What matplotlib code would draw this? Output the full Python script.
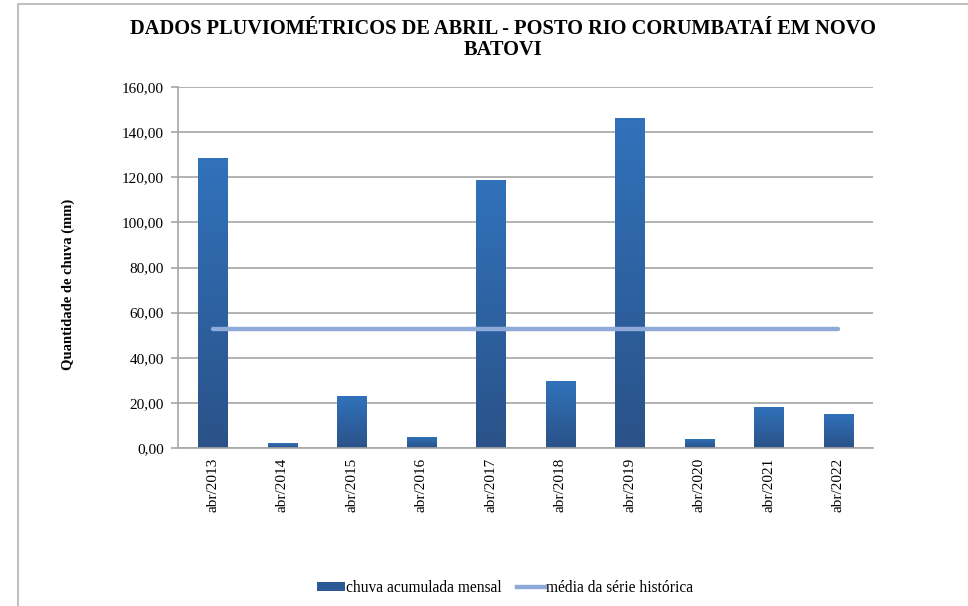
import numpy as np
import matplotlib.pyplot as plt
from matplotlib.patches import Rectangle
from matplotlib.lines import Line2D
from matplotlib.ticker import FuncFormatter

plt.rcParams['font.family'] = ['Liberation Serif', 'DejaVu Serif']

meses = ["abr/2013", "abr/2014", "abr/2015", "abr/2016", "abr/2017",
         "abr/2018", "abr/2019", "abr/2020", "abr/2021", "abr/2022"]
chuva = [128.5, 2.2, 23.0, 4.9, 118.8, 29.7, 146.3, 4.0, 18.2, 15.1]
media = [52.7] * len(meses)

GRID = '#a6a6a6'
TOP_C = np.array([0x31, 0x72, 0xbb]) / 255
BOT_C = np.array([0x2a, 0x52, 0x88]) / 255

fig = plt.figure(figsize=(9.68, 6.06), dpi=100)
ax = fig.add_axes([0.1839, 0.2607, 0.718, 0.5957])

x = np.arange(len(meses))
bars = ax.bar(x, chuva, width=0.42, color=TOP_C, zorder=2)

# vertical gradient inside each bar
grad = np.linspace(0, 1, 256).reshape(-1, 1)
cols = BOT_C + (TOP_C - BOT_C) * grad[..., None]
for b in bars:
    bx, by = b.get_x(), b.get_y()
    w, h = b.get_width(), b.get_height()
    im = ax.imshow(cols, extent=[bx, bx + w, by, by + h], origin='lower',
                   aspect='auto', zorder=2.5)
    im.set_clip_path(b)

ax.plot(x, media, color='#8eaad8', lw=3.2, solid_capstyle='round', zorder=3)

ax.set_xlim(-0.5, len(meses) - 0.5)
ax.set_ylim(0, 160)
ax.set_yticks(np.arange(0, 161, 20))
ax.yaxis.set_major_formatter(FuncFormatter(lambda v, p: f"{v:.2f}".replace('.', ',')))
ax.set_xticks(x)
ax.set_xticklabels(meses, rotation=90, fontsize=11)
ax.tick_params(axis='y', labelsize=11, length=5, color=GRID, width=1.2, pad=5)
ax.tick_params(axis='x', length=0, pad=7)
ax.grid(axis='y', color=GRID, lw=1.2, zorder=0)
ax.set_axisbelow(True)
for s in ['top', 'right']:
    ax.spines[s].set_visible(False)
for s in ['left', 'bottom']:
    ax.spines[s].set_color(GRID)
    ax.spines[s].set_linewidth(1.2)

fig.text(0.52, 0.969, "DADOS PLUVIOMÉTRICOS DE ABRIL - POSTO RIO CORUMBATAÍ EM NOVO\nBATOVI",
         ha='center', va='top', fontsize=14.7, fontweight='bold', linespacing=1.1,
         family='Liberation Serif')
fig.text(0.071, 0.53, "Quantidade de chuva (mm)", rotation=90, ha='center', va='center',
         fontsize=10.5, fontweight='bold')

# outer chart frame
fig.add_artist(Rectangle((18 / 968, -0.1), 1.2, 1 - 4 / 606 + 0.1, transform=fig.transFigure,
                         fill=False, edgecolor='#c0c0c0', lw=1.5))

handles = [Rectangle((0, 0), 1, 1, facecolor='#2d5a95'),
           Line2D([0], [0], color='#8eaad8', lw=3.2)]
fig.legend(handles, ["chuva acumulada mensal", "média da série histórica"],
           loc='center', bbox_to_anchor=(0.522, 0.029), ncol=2, frameon=False,
           fontsize=11.2, handlelength=1.75, handleheight=0.5, handletextpad=0.1,
           columnspacing=1.0)

fig.savefig("out.png", dpi=100)
